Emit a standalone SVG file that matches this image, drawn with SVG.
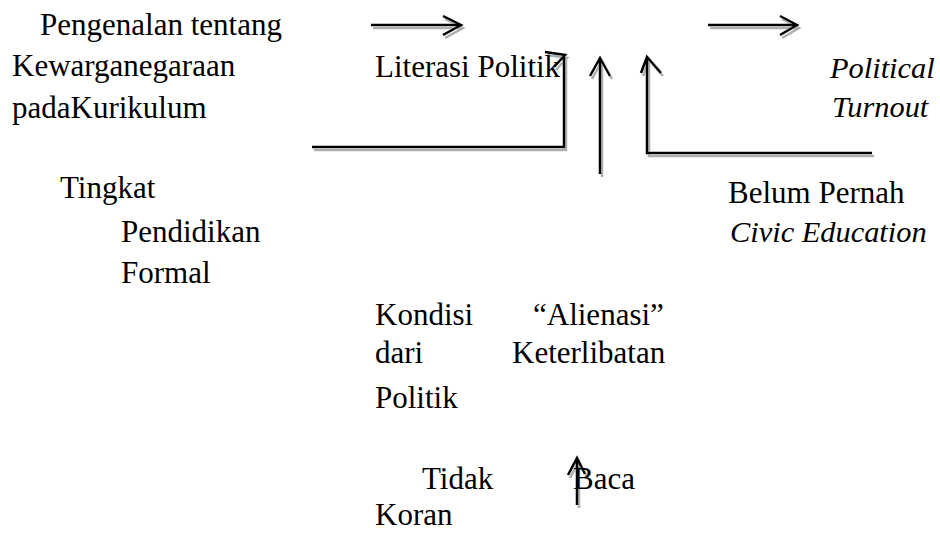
<svg xmlns="http://www.w3.org/2000/svg" width="940" height="533" viewBox="0 0 940 533">
<style>
text{font-family:'Liberation Serif','Times New Roman','DejaVu Serif',serif;font-size:31px;fill:#000}
.it{font-style:italic;font-size:30.4px}
.ln{fill:none;stroke:#000;stroke-width:2.5;stroke-linejoin:miter}
</style>
<defs>
<filter id="sh" x="-20%" y="-20%" width="140%" height="140%">
<feDropShadow dx="2" dy="3" stdDeviation="0.6" flood-color="#9a9a9a" flood-opacity="0.8"/>
</filter>
</defs>
<rect width="940" height="533" fill="#fff"/>
<g id="connectors" filter="url(#sh)">
<path class="ln" d="M371,25 H460 M443,16 L461,25 L443,35"/>
<path class="ln" d="M708,25 H796 M780,16 L797,25 L780,35"/>
<path class="ln" d="M312,147 H564 V55 M545,52 L565,55 L554,67"/>
<path class="ln" d="M600,174 V58 M590,76 L600,58 L610,76"/>
<path class="ln" d="M872,153 H647 V57 M641,73 L647,57 L661,73"/>
<path class="ln" d="M577,505 V458 M568,475 L577,458 L585,474"/>
</g>
<g id="node-pengenalan">
<text x="40" y="35">Pengenalan tentang</text>
<text x="12" y="76">Kewarganegaraan</text>
<text x="12" y="118">padaKurikulum</text>
</g>
<g id="node-literasi">
<text x="375" y="77">Literasi Politik</text>
</g>
<g id="node-turnout">
<text class="it" x="830" y="78">Political</text>
<text class="it" x="832" y="117">Turnout</text>
</g>
<g id="node-tingkat">
<text x="60" y="198">Tingkat</text>
<text x="121" y="242">Pendidikan</text>
<text x="121" y="283">Formal</text>
</g>
<g id="node-civic">
<text x="728" y="203">Belum Pernah</text>
<text class="it" x="730" y="242">Civic Education</text>
</g>
<g id="node-alienasi">
<text x="375" y="325">Kondisi</text>
<text x="533" y="325">“Alienasi”</text>
<text x="375" y="363">dari</text>
<text x="512" y="363">Keterlibatan</text>
<text x="375" y="408">Politik</text>
</g>
<g id="node-koran">
<text x="422" y="489">Tidak</text>
<text x="573" y="489">Baca</text>
<text x="375" y="525">Koran</text>
</g>
</svg>
